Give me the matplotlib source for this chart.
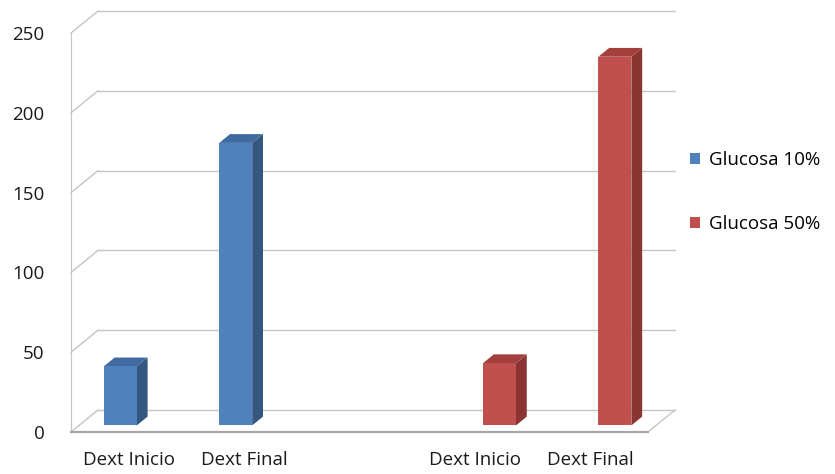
import matplotlib.pyplot as plt
from matplotlib.patches import Polygon, Rectangle
import numpy as np

categorias = ["Dext Inicio", "Dext Final", "", "Dext Inicio", "Dext Final"]
glucosa_10 = [37, 177, None, None, None]
glucosa_50 = [None, None, None, 39, 231]
series = ["Glucosa 10%", "Glucosa 50%"]
yticks = [0, 50, 100, 150, 200, 250]

# colores: frente, lado, tapa
col_azul = ("#4f81bd", "#34577f", "#3f6ba0")
col_rojo = ("#c0504d", "#8b3431", "#a3403d")

W, H = 835, 474
fig = plt.figure(figsize=(W / 100, H / 100), dpi=100)
ax = fig.add_axes([71 / W, 42 / H, 577 / W, 399 / H])
ax.set_xlim(-0.5, 4.5)
ax.set_ylim(0, 250)

# profundidad del grafico 3d en unidades de datos
dx = 27 / (577 / 5)
dy = 22 / (399 / 250)

def p(x, v, f):
    return (x + dx * f, v + dy * f)

grid = "#c4c4c4"
x0, x1 = ax.get_xlim()
for v in yticks:
    ax.plot([p(x0, v, 1)[0], p(x1, v, 1)[0]], [p(x0, v, 1)[1], p(x1, v, 1)[1]],
            color=grid, lw=1, clip_on=False, zorder=1)
    ax.plot([x0, p(x0, v, 1)[0]], [v, p(x0, v, 1)[1]],
            color=grid, lw=1, clip_on=False, zorder=1)
ax.plot([x1, p(x1, 0, 1)[0]], [0, p(x1, 0, 1)[1]], color=grid, lw=1,
        clip_on=False, zorder=1)

ancho = 1 / 3.5
f0, f1 = 0.3, 0.7

def barra(xi, v, cols, label=None):
    xa, xb = xi, xi + ancho
    lado = Polygon([p(xb, 0, f0), p(xb, v, f0), p(xb, v, f1), p(xb, 0, f1)],
                   closed=True, fc=cols[1], ec="none", clip_on=False, zorder=3)
    tapa = Polygon([p(xa, v, f0), p(xb, v, f0), p(xb, v, f1), p(xa, v, f1)],
                   closed=True, fc=cols[2], ec="none", clip_on=False, zorder=3)
    frente = Rectangle(p(xa, 0, f0), ancho, v, fc=cols[0], ec="none",
                       clip_on=False, zorder=4, label=label)
    ax.add_patch(lado)
    ax.add_patch(tapa)
    ax.add_patch(frente)
    return frente

handles = [None, None]
for i in range(len(categorias)):
    if glucosa_10[i] is not None:
        handles[0] = barra(i - ancho, glucosa_10[i], col_azul, series[0])
    if glucosa_50[i] is not None:
        handles[1] = barra(i, glucosa_50[i], col_rojo, series[1])

fuente = "Open Sans"
tam = 13.5
ax.set_yticks(yticks)
ax.set_yticklabels([str(t) for t in yticks], fontsize=tam, family=fuente, color="#1a1a1a")
ax.set_xticks(range(len(categorias)))
ax.set_xticklabels(categorias, fontsize=tam, family=fuente, color="#1a1a1a")
ax.tick_params(axis="y", length=0, pad=19)
ax.tick_params(axis="x", length=0, pad=14)

for s in ["top", "right"]:
    ax.spines[s].set_visible(False)
ax.spines["left"].set_color("#c4c4c4")
ax.spines["bottom"].set_color("#a6a6a6")
ax.spines["bottom"].set_linewidth(1.6)
ax.patch.set_visible(False)

ax.legend(handles, series, loc="center left", bbox_to_anchor=(673 / W, 1 - 192 / H),
          bbox_transform=fig.transFigure, frameon=False, handlelength=0.55,
          handleheight=0.55, handletextpad=0.45, labelspacing=2.45,
          prop={"family": fuente, "size": tam})

fig.savefig("out.png", dpi=100)
